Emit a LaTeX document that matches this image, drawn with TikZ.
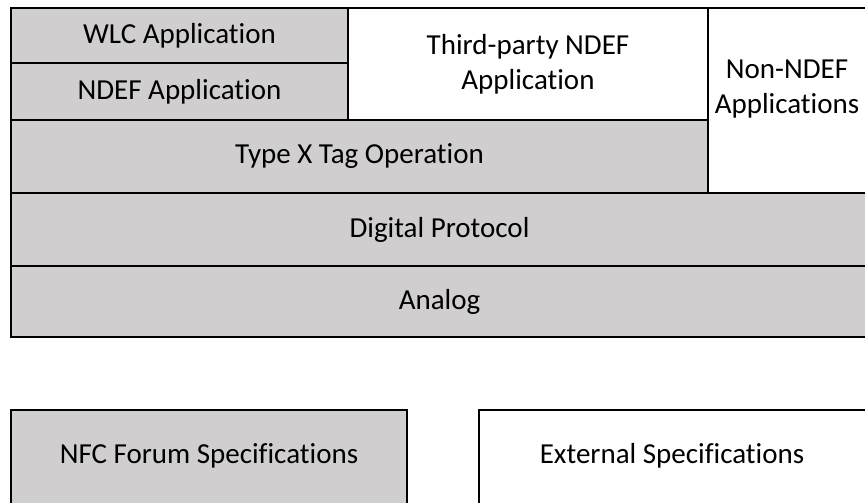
\documentclass[tikz,border=0pt]{standalone}
\usepackage{fontspec}
\setmainfont{Carlito}[RawFeature=-liga]
\usepackage{xcolor}
\definecolor{layergray}{HTML}{D0CECE}

\begin{document}
\begin{tikzpicture}[x=1pt,y=-1pt,
	layer/.style={draw=black, line width=1.8pt, fill=layergray, minimum width=#1},
	plainlayer/.style={layer=#1, fill=white}]
 	\tikzstyle{every node}+=[inner sep=0pt, font=\fontsize{29}{35}\selectfont]
 	\useasboundingbox (0,0) rectangle (865,503);
 	% application row
 	\node [layer=337, minimum height=55] (wlc) at (179.5,35.5) {WLC Application};
 	\node [layer=337, minimum height=57] (ndefapp) at (179.5,91.5) {NDEF Application};
 	\node [plainlayer=360, minimum height=112, align=center] (thirdparty) at (528,64) {Third-party NDEF\\Application};
 	\node [plainlayer=162, minimum height=185] (nonndef) at (789,100.5) {};
 	\node [align=center] (nonndeflbl) at (787,89.5) {Non-NDEF\\Applications};
 	% lower layers
 	\node [layer=697, minimum height=73] (typex) at (359.5,156.5) {Type X Tag Operation};
 	\node [layer=857, minimum height=73] (digital) at (439.5,229.5) {Digital Protocol};
 	\node [layer=857, minimum height=71] (analog) at (439.5,301.5) {Analog};
 	% legend
 	\node [layer=396, minimum height=110] (nfcspec) at (209,465) {};
 	\node (nfcspeclbl) at (209,456) {NFC Forum Specifications};
 	\node [plainlayer=391, minimum height=110] (extspec) at (674.5,465) {};
 	\node (extspeclbl) at (672,456) {External Specifications};
\end{tikzpicture}
\end{document}
